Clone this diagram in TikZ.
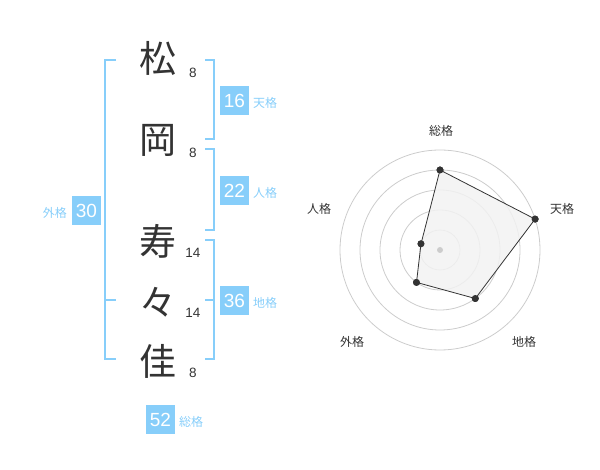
\documentclass[tikz,border=0pt]{standalone}
\usepackage{fontspec}
\setmainfont{Liberation Sans}
\newfontfamily\cjk{Noto Sans CJK JP}
\definecolor{sky}{HTML}{87CEFA}
\definecolor{ink}{HTML}{333333}
\definecolor{ring}{HTML}{CCCCCC}
\definecolor{area}{HTML}{F2F2F2}
\tikzset{
    KJ/.style ={text=ink,inner sep=0pt,font=\cjk\fontsize{37}{37}\selectfont},
    ST/.style ={text=ink,inner sep=0pt,font=\fontsize{13.5}{13.5}\selectfont},
    BX/.style ={rectangle,fill=sky,text=white,minimum width=29pt,minimum height=29pt,inner sep=0pt,font=\fontsize{19}{19}\selectfont},
    LB/.style ={text=sky,inner sep=0pt,font=\cjk\fontsize{12}{12}\selectfont},
    BR/.style ={draw=sky,line width=2pt},
    RL/.style ={text=ink,inner sep=0pt,font=\cjk\fontsize{12}{12}\selectfont},
    DT/.style ={circle,fill=ink,inner sep=0pt,minimum size=7pt}}
\begin{document}
\begin{tikzpicture}[x=1pt,y=-1pt]
        \useasboundingbox (0,0) rectangle (600,470);
        % name characters and strokes
        \node[KJ] (k1) at(158,58){松};
        \node[KJ] (k2) at(158,140){岡};
        \node[KJ] (k3) at(158,241){寿};
        \node[KJ] (k4) at(158,302){々};
        \node[KJ] (k5) at(158,361){佳};
        \node[ST] (s1) at(193,73){8};
        \node[ST] (s2) at(193,153){8};
        \node[ST] (s3) at(193,253){14};
        \node[ST] (s4) at(193,313){14};
        \node[ST] (s5) at(193,373){8};
        % brackets
        \coordinate (a1) at(116,60);
        \coordinate (a2) at(105,359);
        \coordinate (a3) at(116,359);
        \coordinate (a4) at(105,300);
        \coordinate (a5) at(116,300);
        \draw[BR] (a1) -| (a2) -- (a3);
        \draw[BR] (a4) -- (a5);
        \coordinate (b1) at(205,60);
        \coordinate (b2) at(214,139);
        \coordinate (b3) at(205,139);
        \draw[BR] (b1) -| (b2) -- (b3);
        \coordinate (c1) at(205,149);
        \coordinate (c2) at(214,230);
        \coordinate (c3) at(205,230);
        \draw[BR] (c1) -| (c2) -- (c3);
        \coordinate (d1) at(205,240);
        \coordinate (d2) at(214,359);
        \coordinate (d3) at(205,359);
        \coordinate (d4) at(205,300);
        \coordinate (d5) at(214,300);
        \draw[BR] (d1) -| (d2) -- (d3);
        \draw[BR] (d4) -- (d5);
        % sums
        \node[BX] (t1) at(234.5,100.5){16};
        \node[LB,anchor=west] (l1) at(253,103){天格};
        \node[BX] (t2) at(234.5,190.5){22};
        \node[LB,anchor=west] (l2) at(253,193){人格};
        \node[BX] (t3) at(234.5,300.5){36};
        \node[LB,anchor=west] (l3) at(253,303){地格};
        \node[BX] (t4) at(86.5,210.5){30};
        \node[LB,anchor=east] (l4) at(67,213){外格};
        \node[BX] (t5) at(160.5,419.5){52};
        \node[LB,anchor=west] (l5) at(179,422){総格};
        % radar
        \coordinate (o) at(440,250);
        \foreach \r in {20,40,60,80,100}
            \draw[ring,line width=0.8pt] (o) circle (\r);
        \node[DT] (p1) at(440,170){};
        \node[DT] (p2) at(535.1,219.1){};
        \node[DT] (p3) at(475.3,298.5){};
        \node[DT] (p4) at(416.5,282.4){};
        \node[DT] (p5) at(421,243.8){};
        \draw[ink,fill=area,fill opacity=0.85,line width=0.8pt] (p1.center) -- (p2.center) -- (p3.center) -- (p4.center) -- (p5.center) -- cycle;
        \node[circle,fill=ring,inner sep=0pt,minimum size=6pt] (oo) at(o){};
        \foreach \p in {p1,p2,p3,p4,p5}
            \node[DT] at(\p){};
        \node[RL] (r1) at(441,131){総格};
        \node[RL] (r2) at(562,209){天格};
        \node[RL] (r3) at(524,342){地格};
        \node[RL] (r4) at(352,342){外格};
        \node[RL] (r5) at(319,209){人格};
    \end{tikzpicture}
\end{document}
